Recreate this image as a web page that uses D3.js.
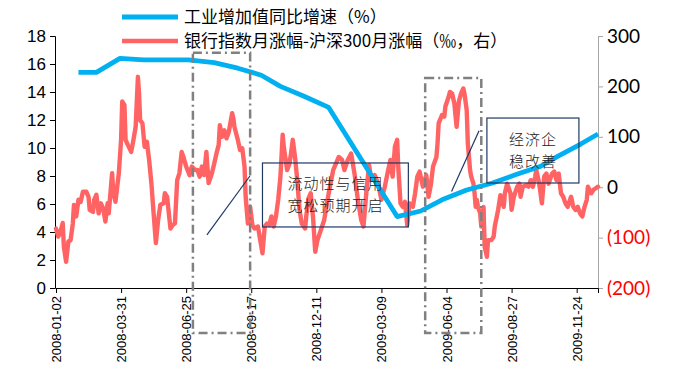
<!DOCTYPE html>
<html>
<head>
<meta charset="utf-8">
<script src="https://cdn.jsdelivr.net/npm/d3@7"></script>
<style>
  body { margin: 0; background: #fff; }
  svg { display: block; }
</style>
</head>
<body>
<div id="chart"></div>
<script>
// x axis is trading sessions since 2008-01-02, one label every 58 sessions
var tickLabels = ["2008-01-02", "2008-03-31", "2008-06-25", "2008-09-17", "2008-12-11",
                  "2009-03-09", "2009-06-04", "2009-08-27", "2009-11-24"];
var tickStep = 58;
var lastDay = 483;

// 工业增加值同比增速 (%), month-end sessions
var ivaDay = [20, 36, 57, 78, 98, 118, 141, 162, 183, 200, 221, 243,
              304, 325, 344, 366, 389, 410, 432, 447, 468, 483];
var ivaValue = [15.4, 15.4, 16.4, 16.3, 16.3, 16.3, 16.1, 15.7, 15.2, 14.4, 13.7, 12.9,
                5.1, 5.5, 6.3, 7.0, 7.5, 8.1, 8.7, 9.4, 10.3, 11.0];

// 银行指数月涨幅-沪深300月涨幅 (right axis)
var bankDay = [0, 2, 4, 6, 7, 9, 11, 13, 15, 16,
  18, 20, 22, 24, 27, 29, 30, 33, 34, 36,
  38, 40, 42, 44, 46, 47, 50, 51, 53, 56,
  58, 59, 61, 62, 64, 67, 69, 71, 73, 74,
  75, 77, 79, 81, 83, 85, 87, 89, 91, 93,
  96, 97, 99, 102, 104, 106, 108, 110, 112, 114,
  116, 119, 121, 124, 126, 128, 130, 132, 134, 136,
  139, 141, 143, 145, 146, 148, 150, 152, 154, 157,
  158, 159, 162, 164, 166, 168, 169, 171, 173, 175,
  177, 180, 182, 184, 186, 188, 190, 192, 194, 196,
  198, 200, 202, 203, 206, 208, 209, 211, 213, 215,
  217, 219, 222, 223, 225, 227, 229, 231, 233, 239,
  243, 247, 252, 255, 257, 260, 263, 266, 269, 272,
  274, 277, 279, 281, 284, 287, 290, 293, 296, 298,
  300, 302, 304, 305, 307, 309, 311, 313, 315, 318,
  320, 322, 324, 327, 330, 332, 334, 336, 339, 340,
  341, 344, 346, 347, 350, 351, 353, 355, 357, 359,
  361, 363, 364, 366, 367, 369, 370, 372, 373, 374,
  375, 376, 378, 379, 381, 382, 384, 385, 388, 390,
  391, 394, 396, 397, 399, 400, 402, 403, 405, 406,
  408, 411, 413, 414, 416, 419, 421, 423, 425, 427,
  428, 430, 431, 433, 435, 437, 439, 442, 444, 446,
  448, 450, 452, 454, 456, 459, 461, 463, 465, 467,
  469, 471, 473, 474, 477, 479, 481, 483];
var bankValue = [-82, -98, -88, -71, -118, -148, -108, -105, -72, -35,
  -58, -25, -29, -9, -9, -19, -45, -49, -25, -15,
  -52, -32, -42, -68, -32, -52, 28, -9, -29, 28,
  94, 170, 163, 94, 84, 70, 94, 120, 219, 186,
  133, 127, 80, 90, 54, 8, -52, -111, -65, -35,
  -32, -12, -19, -82, -75, -72, 14, 28, 70, 57,
  41, 24, 41, 34, 34, 21, 41, 24, 70, 8,
  28, 47, 67, 84, 123, 100, 113, 97, 110, 147,
  137, 120, 94, 74, 77, 41, -19, -72, -39, -75,
  -82, -78, -105, -131, -78, -72, -75, -58, -78, -58,
  -25, 21, 104, 80, 34, 47, 60, 94, 60, 14,
  -45, -72, -82, -58, -22, -12, -58, -128, -105, -65,
  -12, 34, 60, 54, 34, 54, 67, 27, -25, -65,
  -78, 1, 44, 14, 24, 7, -25, 1, 34, 54,
  21, 80, 94, 41, -32, -39, -29, -75, -32, -39,
  -12, 21, 31, 1, 24, -19, 4, 41, 60, 87,
  127, 143, 140, 160, 180, 189, 186, 166, 120, 170,
  186, 196, 186, 153, 87, 34, 21, 7, -12, -39,
  -25, -39, -52, -78, -39, -118, -138, -105, -105, -98,
  -78, -45, -16, -25, -39, -12, 7, 1, -12, -45,
  -19, 1, 7, -19, 1, 4, 1, 14, 1, 21,
  34, 14, 1, -32, 21, 27, 7, 27, 31, 14,
  27, -12, -19, -32, -39, -19, -39, -45, -39, -52,
  -58, -39, -25, 1, -12, -5, -2, 1];

var legendNames = ["工业增加值同比增速（%）", "银行指数月涨幅-沪深300月涨幅（‰，右）"];

var blue = "#00b0f0", red = "#ff6363", navy = "#1f3864", grey = "#808080";

var W = 677, H = 371;
var margin = {top: 36, right: 79, bottom: 83, left: 55},
    width = W - margin.left - margin.right,
    height = H - margin.top - margin.bottom;

var svg = d3.select("#chart").append("svg")
    .attr("width", W)
    .attr("height", H);

var g = svg.append("g")
    .attr("transform", "translate(" + margin.left + "," + margin.top + ")");

// scales
var x = d3.scaleLinear().domain([0, lastDay]).range([1, width]);
var yL = d3.scaleLinear().domain([0, 18]).range([height, 0]);
var yR = d3.scaleLinear().domain([-200, 300]).range([height, 0]);

// left axis
var leftAxis = g.append("g")
    .call(d3.axisLeft(yL).tickValues(d3.range(0, 19, 2)).tickSize(5).tickPadding(4));
leftAxis.select(".domain").attr("stroke", "#000");
leftAxis.selectAll("text")
    .style("font-family", "'Liberation Sans', Arial, sans-serif")
    .style("font-size", "17px")
    .attr("fill", "#000");

// right axis
var rightAxis = g.append("g")
    .attr("transform", "translate(" + width + ",0)")
    .call(d3.axisRight(yR).tickValues([-200, -100, 0, 100, 200, 300]).tickSize(5).tickPadding(4)
      .tickFormat(function(d) { return d < 0 ? "(" + Math.abs(d) + ")" : d; }));
rightAxis.selectAll("path, line").attr("stroke", "#a6a6a6");
rightAxis.selectAll("text")
    .style("font-family", "Lato, 'Open Sans', sans-serif")
    .style("font-size", "19px")
    .attr("fill", function(d) { return d < 0 ? "#ff0000" : "#000"; });

// bottom axis
var tickDays = tickLabels.map(function(d, i) { return i * tickStep; });
var bottomAxis = g.append("g")
    .attr("transform", "translate(0," + height + ")")
    .call(d3.axisBottom(x).tickValues(tickDays).tickSize(5)
      .tickFormat(function(d, i) { return tickLabels[i]; }));
bottomAxis.select(".domain").attr("stroke", "#000");
bottomAxis.selectAll("text")
    .style("font-family", "'Liberation Sans', Arial, sans-serif")
    .style("font-size", "13px")
    .attr("fill", "#000")
    .style("text-anchor", "end")
    .attr("x", -8)
    .attr("y", 0)
    .attr("dy", "0.35em")
    .attr("transform", "rotate(-90)");

// bank relative return line (right axis)
var bankLine = d3.line()
    .x(function(d, i) { return x(bankDay[i]); })
    .y(function(d) { return yR(d); });
g.append("path")
    .datum(bankValue)
    .attr("fill", "none")
    .attr("stroke", red)
    .attr("stroke-width", 4.4)
    .attr("stroke-linejoin", "round")
    .attr("stroke-linecap", "round")
    .attr("d", bankLine);

// industrial value added line (left axis)
var ivaLine = d3.line()
    .x(function(d, i) { return x(ivaDay[i]); })
    .y(function(d) { return yL(d); });
g.append("path")
    .datum(ivaValue)
    .attr("fill", "none")
    .attr("stroke", blue)
    .attr("stroke-width", 4.8)
    .attr("stroke-linejoin", "round")
    .attr("d", ivaLine);

// dash-dot highlight windows, they hang below the axis
[[122, 173, 16.8], [329, 379, 15.0]].forEach(function(b) {
  g.append("rect")
    .attr("x", x(b[0]))
    .attr("y", yL(b[2]))
    .attr("width", x(b[1]) - x(b[0]))
    .attr("height", height + 45 - yL(b[2]))
    .attr("fill", "none")
    .attr("stroke", grey)
    .attr("stroke-width", 2.5)
    .attr("stroke-dasharray", "9,4,2,4");
});

// annotation boxes with leader lines
var notes = [
  {box: [184, 314, 8.93, 4.36], line: [134.5, 3.8, 172.8, 8.0], text: ["流动性与信用", "宽松预期开启"]},
  {box: [384, 466, 12.14, 7.5], line: [352.5, 6.9, 377, 11.24], text: ["经济企", "稳改善"]}
];
notes.forEach(function(n) {
  var x0 = x(n.box[0]), x1 = x(n.box[1]), y0 = yL(n.box[2]), y1 = yL(n.box[3]);
  g.append("rect")
    .attr("x", x0).attr("y", y0)
    .attr("width", x1 - x0).attr("height", y1 - y0)
    .attr("fill", "none")
    .attr("stroke", navy)
    .attr("stroke-width", 1.2);
  g.append("line")
    .attr("x1", x(n.line[0])).attr("y1", yL(n.line[1]))
    .attr("x2", x(n.line[2])).attr("y2", yL(n.line[3]))
    .attr("stroke", navy)
    .attr("stroke-width", 1.2);
  var cy = (y0 + y1) / 2;
  n.text.forEach(function(t, i) {
    g.append("text")
      .attr("x", (x0 + x1) / 2)
      .attr("y", cy + (i - 0.5) * 22)
      .attr("dy", "0.35em")
      .attr("text-anchor", "middle")
      .style("font-family", "'Noto Sans CJK SC', sans-serif")
      .style("font-size", "15px")
      .style("font-weight", 300)
      .style("letter-spacing", "1px")
      .attr("fill", "#222")
      .text(t);
  });
});

// legend
var legend = svg.append("g");
[blue, red].forEach(function(c, i) {
  var ly = 17 + i * 24;
  legend.append("line")
    .attr("x1", 122).attr("x2", 178)
    .attr("y1", ly).attr("y2", ly)
    .attr("stroke", c)
    .attr("stroke-width", i === 0 ? 4.8 : 4.4);
  legend.append("text")
    .attr("x", 184).attr("y", ly)
    .attr("dy", "0.35em")
    .style("font-family", "'Noto Sans CJK SC', sans-serif")
    .style("font-size", "17px")
    .attr("fill", "#000")
    .text(legendNames[i]);
});
</script>
</body>
</html>
